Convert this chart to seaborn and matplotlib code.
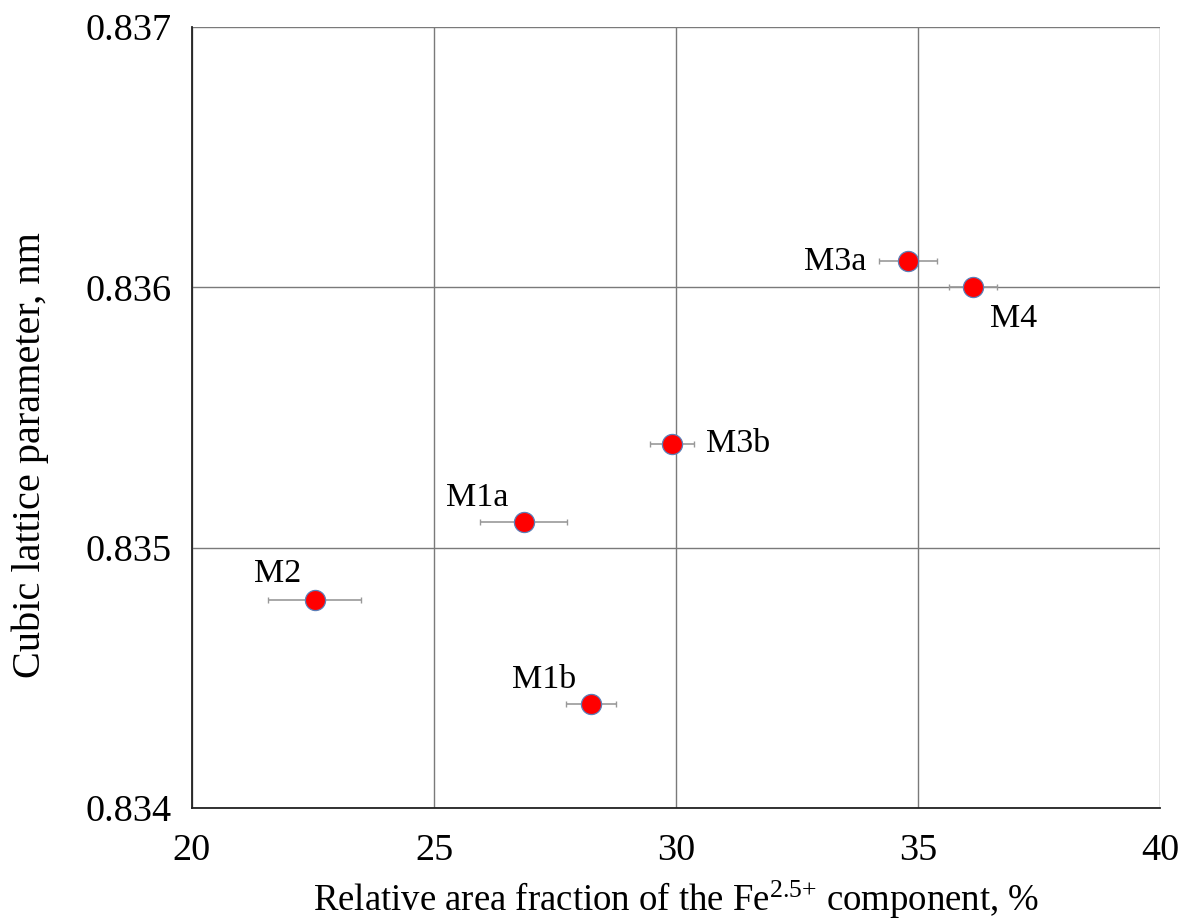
import matplotlib
matplotlib.use("Agg")
import matplotlib.pyplot as plt
import seaborn as sns
import pandas as pd

samples = ["M3a", "M4", "M3b", "M1a", "M2", "M1b"]
fe25_fraction = [34.8, 36.14, 29.92, 26.85, 22.54, 28.24]
fraction_err = [0.6, 0.5, 0.45, 0.9, 0.96, 0.51]
lattice_param = [0.8361, 0.8360, 0.8354, 0.8351, 0.8348, 0.8344]

# label offsets (pixels) relative to each point
label_offsets = {
    "M3a": (-73, 0),
    "M4": (40, -31),
    "M3b": (66, 0),
    "M1a": (-46, 24),
    "M2": (-37, 26),
    "M1b": (-47, 24),
}

df = pd.DataFrame({"sample": samples, "x": fe25_fraction,
                   "xerr": fraction_err, "y": lattice_param})

sns.set_style("white")
plt.rcParams["font.family"] = ["Liberation Serif", "DejaVu Serif"]
plt.rcParams["mathtext.fontset"] = "custom"
plt.rcParams["mathtext.rm"] = "Liberation Serif"
plt.rcParams["mathtext.it"] = "Liberation Serif"
plt.rcParams["text.color"] = "black"
plt.rcParams["axes.labelcolor"] = "black"

fig = plt.figure(figsize=(11.85, 9.22), dpi=100)
ax = fig.add_axes([0.162, 0.1236, 0.817, 0.847])

ax.errorbar(df["x"], df["y"], xerr=df["xerr"], fmt="none",
            ecolor="#999999", elinewidth=1.2, capsize=2.5, capthick=1.0,
            zorder=3)
sns.scatterplot(data=df, x="x", y="y", ax=ax, s=210, color="#ff0000",
                edgecolor="#5b7fb8", linewidth=0.9, zorder=4, legend=False)

for name, xv, yv in zip(df["sample"], df["x"], df["y"]):
    dx, dy = label_offsets[name]
    ax.annotate(name, (xv, yv), xytext=(dx, dy), textcoords="offset pixels",
                ha="center", va="center", fontsize=24.5, color="black")

ax.set_xlim(20, 40)
ax.set_ylim(0.834, 0.837)
ax.set_xticks([20, 25, 30, 35, 40])
ax.set_yticks([0.834, 0.835, 0.836, 0.837])
ax.set_yticklabels(["0.834", "0.835", "0.836", "0.837"])

ax.grid(True, color="#7a7a7a", linewidth=1.0)
ax.set_axisbelow(True)
for side in ["top", "right"]:
    ax.spines[side].set_visible(False)
for side in ["left", "bottom"]:
    ax.spines[side].set_color("#222222")
    ax.spines[side].set_linewidth(1.3)

ax.tick_params(axis="x", direction="inout", length=16, width=1.2,
               labelsize=27.5, pad=10, colors="#222222", labelcolor="black")
ax.tick_params(axis="y", direction="out", length=9, width=1.2,
               labelsize=27.5, pad=6, colors="#222222", labelcolor="black")

ax.set_xlabel(r"Relative area fraction of the Fe$^{\mathrm{2.5{+}}}$ component, %",
              fontsize=26.5, labelpad=8)
ax.set_ylabel("Cubic lattice parameter, nm", fontsize=29)
ax.yaxis.set_label_coords(-0.148, 0.452)

fig.savefig("out.png", dpi=100)
